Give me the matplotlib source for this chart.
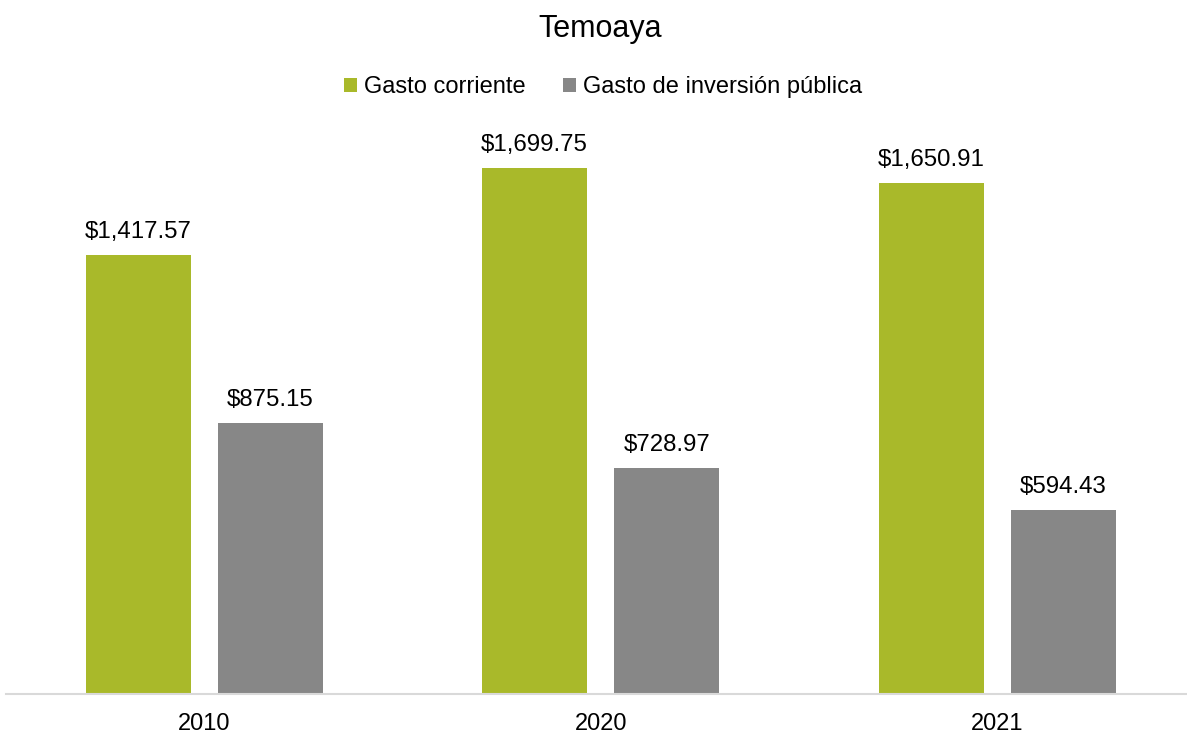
import matplotlib
matplotlib.use("Agg")
import matplotlib.pyplot as plt
import numpy as np

title = "Temoaya"
years = ["2010", "2020", "2021"]
gasto_corriente = [1417.57, 1699.75, 1650.91]
gasto_inversion = [875.15, 728.97, 594.43]
series_names = ["Gasto corriente", "Gasto de inversión pública"]
colors = ["#A9B92A", "#878787"]

plt.rcParams['font.family'] = ['Liberation Sans', 'DejaVu Sans']

W, H = 1187, 734
fig = plt.figure(figsize=(W / 100, H / 100), dpi=100)
left_px, right_px = 6, 1187
bottom_px = 694
top_px = 136.5
ax = fig.add_axes([left_px / W, (H - bottom_px) / H, (right_px - left_px) / W, (bottom_px - top_px) / H])

x = np.arange(len(years))
bw = 0.265
off = 0.1667
b1 = ax.bar(x - off, gasto_corriente, bw, color=colors[0], label=series_names[0])
b2 = ax.bar(x + off, gasto_inversion, bw, color=colors[1], label=series_names[1])

for bars in (b1, b2):
    for r in bars:
        v = r.get_height()
        ax.annotate(f"${v:,.2f}", (r.get_x() + r.get_width() / 2, v),
                    xytext=(0, 8.5), textcoords="offset points",
                    ha="center", va="bottom", fontsize=17.3, color="#000000")

ax.set_xlim(-0.5, -0.5 + (right_px - left_px) / 396.5)
ax.set_ylim(0, 1800)
ax.set_xticks(x)
ax.set_xticklabels(years, fontsize=17)
ax.tick_params(axis='x', length=0, pad=14)
ax.set_yticks([])
for s in ("top", "right", "left"):
    ax.spines[s].set_visible(False)
ax.spines["bottom"].set_color("#d9d9d9")
ax.spines["bottom"].set_linewidth(1.5)

fig.text(600 / W, 1 - 29 / H, title, ha="center", va="center", fontsize=22)
leg = fig.legend(handles=[b1, b2], labels=series_names, loc="center",
                 bbox_to_anchor=(603 / W, 1 - 87 / H), ncol=2, frameon=False,
                 fontsize=17, handlelength=0.55, handleheight=0.55,
                 handletextpad=0.3, columnspacing=1.6)

fig.savefig("out.png", dpi=100)
